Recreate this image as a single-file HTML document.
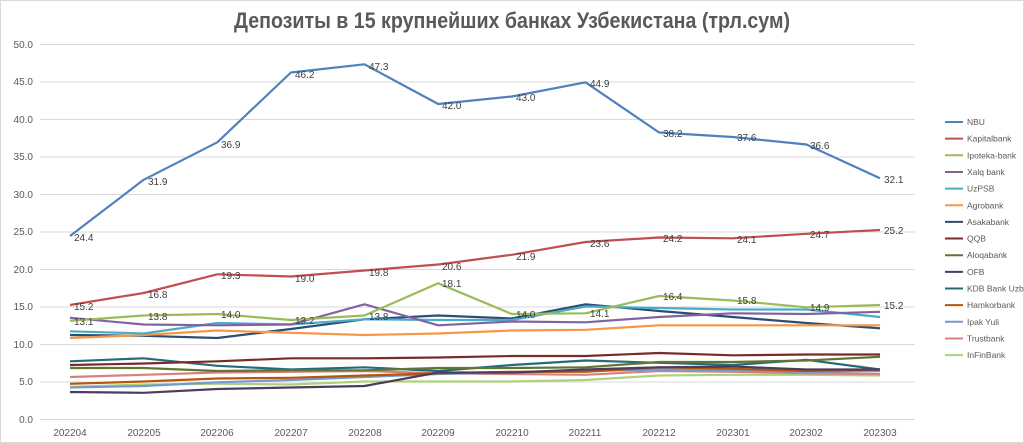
<!DOCTYPE html>
<html><head><meta charset="utf-8"><style>
html,body{margin:0;padding:0;background:#fff;}
svg{display:block;font-family:"Liberation Sans",sans-serif;}
.t{font-size:10px;fill:#595959;}
.d{font-size:10px;fill:#404040;}
.l{font-size:8.5px;fill:#595959;}
</style></head><body>
<svg id="s" width="1024" height="443" viewBox="0 0 1024 443">
<rect x="0.5" y="0.5" width="1023" height="442" fill="#fff" stroke="#d9d9d9"/>
<text x="512" y="28" text-anchor="middle" textLength="556" lengthAdjust="spacingAndGlyphs" style="font-family:'Liberation Sans Narrow','Liberation Sans',sans-serif;font-weight:bold;font-size:22px;fill:#595959">Депозиты в 15 крупнейших банках Узбекистана (трл.сум)</text>
<g stroke="#d9d9d9" stroke-width="1">
<line x1="40" x2="915" y1="419.5" y2="419.5"/><line x1="40" x2="915" y1="344.5" y2="344.5"/><line x1="40" x2="915" y1="269.5" y2="269.5"/><line x1="40" x2="915" y1="194.5" y2="194.5"/><line x1="40" x2="915" y1="119.5" y2="119.5"/><line x1="40" x2="915" y1="44.5" y2="44.5"/>
<line x1="40" x2="915" y1="382" y2="382"/><line x1="40" x2="915" y1="307" y2="307"/><line x1="40" x2="915" y1="232" y2="232"/><line x1="40" x2="915" y1="157" y2="157"/><line x1="40" x2="915" y1="82" y2="82"/>
</g>
<g class="t" text-anchor="end">
<text x="33" y="423">0.0</text><text x="33" y="385">5.0</text><text x="33" y="348">10.0</text><text x="33" y="310">15.0</text><text x="33" y="273">20.0</text><text x="33" y="235">25.0</text><text x="33" y="198">30.0</text><text x="33" y="160">35.0</text><text x="33" y="123">40.0</text><text x="33" y="85">45.0</text><text x="33" y="48">50.0</text>
</g>
<g class="t" text-anchor="middle">
<text x="70" y="436">202204</text><text x="144" y="436">202205</text><text x="217" y="436">202206</text><text x="291" y="436">202207</text><text x="365" y="436">202208</text><text x="438" y="436">202209</text><text x="512" y="436">202210</text><text x="585" y="436">202211</text><text x="659" y="436">202212</text><text x="733" y="436">202301</text><text x="806" y="436">202302</text><text x="880" y="436">202303</text>
</g>
<g id="lines" fill="none" stroke-width="2.2" stroke-linejoin="round"></g>
<g class="d">
<text x="74" y="241">24.4</text><text x="148" y="185">31.9</text><text x="221" y="148">36.9</text><text x="295" y="78">46.2</text><text x="369" y="70">47.3</text><text x="442" y="109">42.0</text><text x="516" y="101">43.0</text><text x="590" y="87">44.9</text><text x="663" y="137">38.2</text><text x="737" y="141">37.6</text><text x="810" y="149">36.6</text><text x="884" y="183">32.1</text>
<text x="74" y="310">15.2</text><text x="148" y="298">16.8</text><text x="221" y="279">19.3</text><text x="295" y="282">19.0</text><text x="369" y="276">19.8</text><text x="442" y="270">20.6</text><text x="516" y="260">21.9</text><text x="590" y="247">23.6</text><text x="663" y="242">24.2</text><text x="737" y="243">24.1</text><text x="810" y="238">24.7</text><text x="884" y="234">25.2</text>
<text x="74" y="325">13.1</text><text x="148" y="320">13.8</text><text x="221" y="318">14.0</text><text x="295" y="324">13.2</text><text x="369" y="320">13.8</text><text x="442" y="287">18.1</text><text x="516" y="318">14.0</text><text x="590" y="317">14.1</text><text x="663" y="300">16.4</text><text x="737" y="304">15.8</text><text x="810" y="311">14.9</text><text x="884" y="309">15.2</text>
</g>
<g id="leg" class="l"></g>
</svg>
<script>
var X=[70,143.6,217.3,290.9,364.5,438.2,511.8,585.5,659.1,732.7,806.4,880];
var S=[
["NBU","#4F81BD",[24.4,31.9,36.9,46.2,47.3,42.0,43.0,44.9,38.2,37.6,36.6,32.1]],
["Kapitalbank","#C0504D",[15.2,16.8,19.3,19.0,19.8,20.6,21.9,23.6,24.2,24.1,24.7,25.2]],
["Ipoteka-bank","#9BBB59",[13.1,13.8,14.0,13.2,13.8,18.1,14.0,14.1,16.4,15.8,14.9,15.2]],
["Xalq bank","#8064A2",[13.5,12.6,12.5,12.6,15.3,12.5,13.0,12.9,13.6,14.1,14.0,14.3]],
["UzPSB","#4BACC6",[11.7,11.4,12.8,12.6,13.3,13.2,13.2,15.0,14.8,14.6,14.6,13.6]],
["Agrobank","#F79646",[10.8,11.2,11.8,11.5,11.2,11.4,11.8,11.9,12.5,12.5,12.5,12.5]],
["Asakabank","#2C4D75",[11.2,11.1,10.8,12.0,13.3,13.8,13.4,15.3,14.4,13.6,12.8,12.1]],
["QQB","#772C2A",[7.2,7.4,7.7,8.1,8.1,8.2,8.4,8.4,8.8,8.5,8.6,8.6]],
["Aloqabank","#5F7530",[6.8,6.8,6.4,6.5,6.5,6.8,6.8,6.9,7.6,7.6,7.8,8.3]],
["OFB","#4D3B62",[3.6,3.5,4.0,4.2,4.4,6.2,6.2,6.6,6.9,7.0,6.6,6.6]],
["KDB Bank Uzb","#276A7C",[7.7,8.1,7.1,6.6,6.9,6.4,7.2,7.8,7.5,7.2,7.9,6.6]],
["Hamkorbank","#B65708",[4.7,5.0,5.4,5.5,5.8,6.1,6.3,6.3,6.9,6.7,6.4,6.6]],
["Ipak Yuli","#729ACA",[4.2,4.4,4.9,5.2,5.6,6.0,6.2,6.4,6.6,6.5,6.3,6.4]],
["Trustbank","#D9807E",[5.6,5.9,6.2,6.3,6.4,6.1,6.0,5.9,6.4,6.3,6.1,6.0]],
["InFinBank","#AFD17A",[4.3,4.6,4.7,4.6,5.0,5.0,5.0,5.2,5.8,5.9,5.9,5.8]]];
var ns="http://www.w3.org/2000/svg",g=document.getElementById("lines"),lg=document.getElementById("leg");
for(var k=S.length-1;k>=0;k--){var p=document.createElementNS(ns,"polyline");
p.setAttribute("points",S[k][2].map(function(v,i){return X[i]+","+(419-7.5*v).toFixed(1)}).join(" "));
p.setAttribute("stroke",S[k][1]);g.appendChild(p);}
for(var k=0;k<S.length;k++){var y=122+16.65*k;var l=document.createElementNS(ns,"line");
l.setAttribute("x1",945);l.setAttribute("x2",963);l.setAttribute("y1",y);l.setAttribute("y2",y);
l.setAttribute("stroke",S[k][1]);l.setAttribute("stroke-width",2);lg.appendChild(l);
var t=document.createElementNS(ns,"text");t.setAttribute("x",967);t.setAttribute("y",y+3);t.textContent=S[k][0];lg.appendChild(t);}
</script>
</body></html>
